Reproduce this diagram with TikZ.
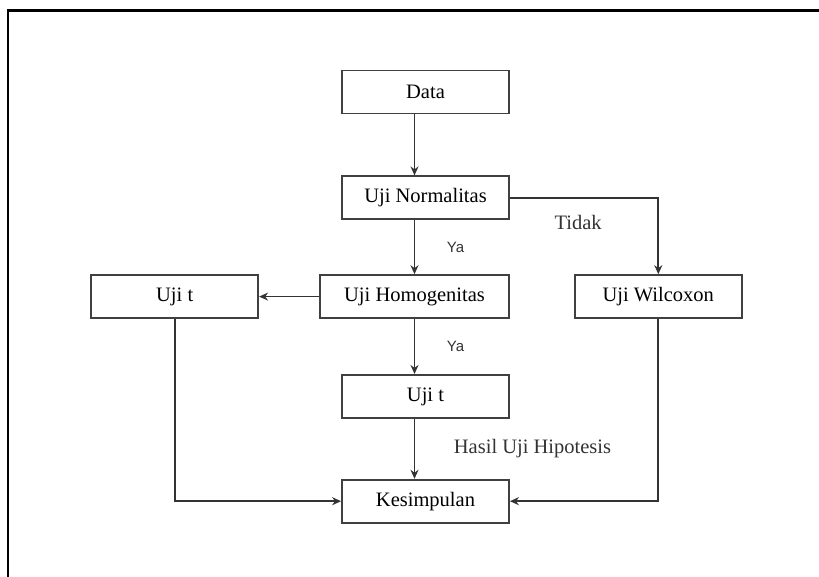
\documentclass[tikz,border=0pt]{standalone}
\usepackage{fontspec}
\setmainfont{Liberation Serif}
\newfontfamily\yafont{Liberation Sans}
\usepackage{tikz}
\usetikzlibrary{arrows.meta,positioning}
\tikzstyle{box}=[rectangle, draw=black!75, line width=1.8pt, minimum width=167pt,
  minimum height=43pt, inner sep=0pt, font=\fontsize{20.5}{24}\selectfont]
\tikzstyle{lbl}=[font=\fontsize{20.5}{24}\selectfont, text=black!80]
\tikzstyle{ya}=[font=\yafont\fontsize{15}{18}\selectfont, text=black!80]
\tikzstyle{arrow}=[-{Stealth[length=9pt,width=8pt]}, line width=1.8pt, draw=black!80]

\begin{document}
\begin{tikzpicture}[x=1pt, y=1pt, node distance=57pt]
\useasboundingbox (0,0) rectangle (819,-577);
\draw[line width=2.5pt] (8,-577) -- (8,-10.5) -- (819,-10.5);

\node (data) [box] at (425.5,-92) {Data};
\node (norm) [box, below=61pt of data] {Uji Normalitas};
\node (homog) [box, minimum width=189pt, below=54pt of norm, xshift=-11pt] {Uji Homogenitas};
\node (ujitl) [box, left=60pt of homog] {Uji t};
\node (wilc) [box, right=64pt of homog] {Uji Wilcoxon};
\node (ujit) [box, below=55pt of homog, xshift=11pt] {Uji t};
\node (kes) [box, below=60pt of ujit] {Kesimpulan};

\draw[arrow] (data.south -| homog) -- (norm.north -| homog);
\draw[arrow] (norm.south -| homog) -- node[ya, xshift=41pt]{Ya} (homog.north);
\draw[arrow] (norm.east) -| node[lbl, pos=0.23, yshift=-25pt]{Tidak} (wilc.north);
\draw[arrow] (homog.west) -- (ujitl.east);
\draw[arrow] (homog.south) -- node[ya, xshift=41pt]{Ya} (ujit.north -| homog);
\draw[arrow] (ujit.south -| homog) -- node[lbl, xshift=118pt]{Hasil Uji Hipotesis} (kes.north -| homog);
\draw[arrow] (ujitl.south) |- (kes.west);
\draw[arrow] (wilc.south) |- (kes.east);
\end{tikzpicture}
\end{document}
